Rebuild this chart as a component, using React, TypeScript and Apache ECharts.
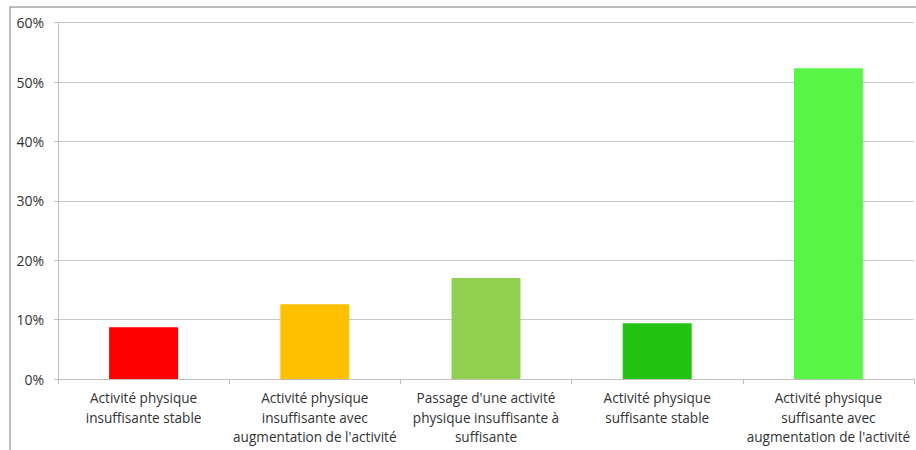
import React, { useEffect, useRef } from "react";
import * as echarts from "echarts";

const categories = [
  "Activité physique\ninsuffisante stable",
  "Activité physique\ninsuffisante avec\naugmentation de l'activité",
  "Passage d'une activité\nphysique insuffisante à\nsuffisante",
  "Activité physique\nsuffisante stable",
  "Activité physique\nsuffisante avec\naugmentation de l'activité",
];
const values = [8.7, 12.6, 17.0, 9.4, 52.3];
const colors = ["#FF0000", "#FFC000", "#92D050", "#22C312", "#59F546"];

export default function App() {
  const ref = useRef<HTMLDivElement>(null);
  useEffect(() => {
    const chart = echarts.init(ref.current!, null, { renderer: "svg" });
    chart.setOption({
      animation: false,
      backgroundColor: "#ffffff",
      graphic: [
        {
          type: "rect",
          shape: { x: 10, y: 7, width: 960, height: 500 },
          style: { fill: "none", stroke: "#a6a6a6", lineWidth: 1.5 },
          silent: true,
        },
      ],
      grid: { left: 58, right: 2, top: 22.6, bottom: 71 },
      xAxis: {
        type: "category",
        data: categories,
        axisLine: { lineStyle: { color: "#bfbfbf" } },
        axisTick: { show: true, length: 5, lineStyle: { color: "#bfbfbf" } },
        axisLabel: {
          interval: 0,
          color: "#333333",
          fontFamily: "Open Sans, Noto Sans, sans-serif",
          fontSize: 13.6,
          lineHeight: 19.5,
          margin: 9,
        },
      },
      yAxis: {
        type: "value",
        min: 0,
        max: 60,
        interval: 10,
        axisLine: { show: true, lineStyle: { color: "#bfbfbf" } },
        axisTick: { show: true, length: 4, lineStyle: { color: "#bfbfbf" } },
        splitLine: { lineStyle: { color: "#c8c8c8" } },
        axisLabel: {
          formatter: "{value}%",
          color: "#333333",
          fontFamily: "Open Sans, Noto Sans, sans-serif",
          fontSize: 14,
          margin: 14,
        },
      },
      series: [
        {
          type: "bar",
          barWidth: 69,
          data: values.map((v, i) => ({
            value: v,
            itemStyle: { color: colors[i] },
          })),
        },
      ],
    });
    return () => chart.dispose();
  }, []);
  return <div ref={ref} style={{ width: 916, height: 450, position: "absolute", left: 0, top: 0 }} />;
}
